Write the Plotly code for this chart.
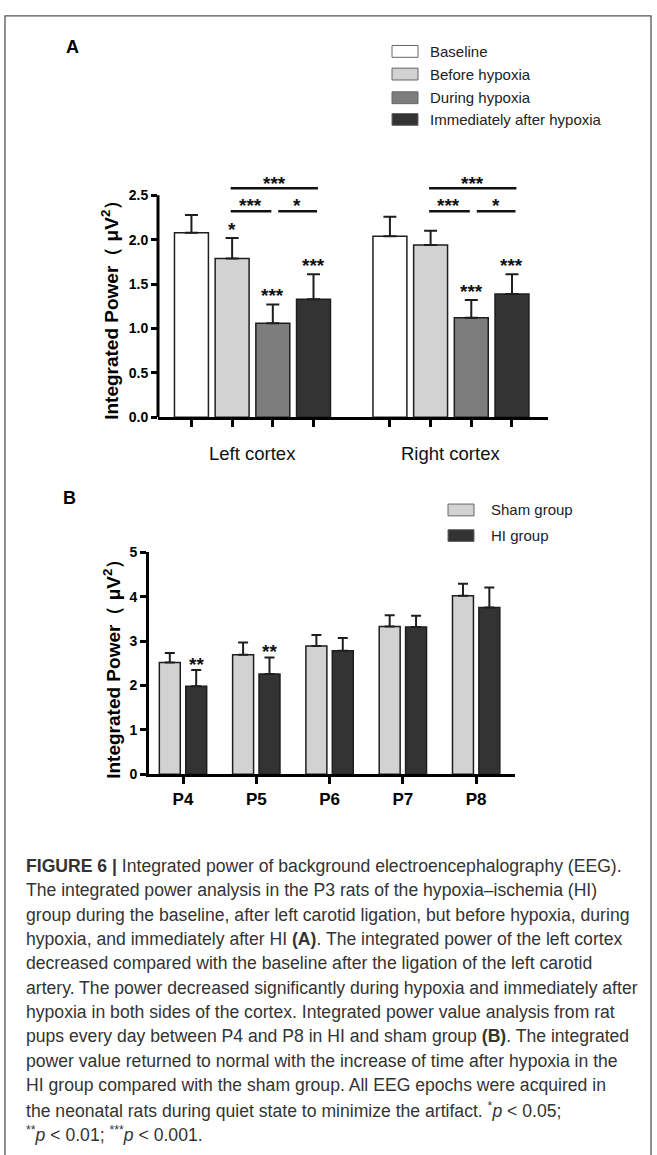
import plotly.graph_objects as go

W, H = 657, 1155

# ---------------- Panel A data ----------------
regions = ["Left cortex", "Right cortex"]
conditions = ["Baseline", "Before hypoxia", "During hypoxia", "Immediately after hypoxia"]
baseline_mean = [2.08, 2.04]
baseline_sem = [0.20, 0.22]
before_mean = [1.79, 1.94]
before_sem = [0.23, 0.16]
during_mean = [1.06, 1.12]
during_sem = [0.21, 0.20]
after_mean = [1.33, 1.39]
after_sem = [0.28, 0.22]
stars_A = [["", ""], ["*", ""], ["***", "***"], ["***", "***"]]
yticks_A = [0.0, 0.5, 1.0, 1.5, 2.0, 2.5]

# ---------------- Panel B data ----------------
days = ["P4", "P5", "P6", "P7", "P8"]
groups_B = ["Sham group", "HI group"]
sham_mean = [2.52, 2.69, 2.89, 3.33, 4.02]
sham_sem = [0.21, 0.28, 0.25, 0.25, 0.27]
hi_mean = [1.98, 2.26, 2.78, 3.32, 3.76]
hi_sem = [0.37, 0.37, 0.29, 0.25, 0.45]
stars_B = ["**", "**", "", "", ""]
yticks_B = [0, 1, 2, 3, 4, 5]

colors_A = ["#ffffff", "#d2d2d2", "#7d7d7d", "#333333"]
colors_B = ["#d2d2d2", "#333333"]
EDGE = "#1e1e1e"
FONT = "Liberation Sans, Arial, sans-serif"
STAR_FONT = dict(family=FONT, size=19, color="#111", weight="bold")


def px_x(p):
    return p / W


def px_y(p):
    return 1 - p / H


fig = go.Figure()

# ---- Panel A bars ----
means_A = [baseline_mean, before_mean, during_mean, after_mean]
sems_A = [baseline_sem, before_sem, during_sem, after_sem]
step_A, width_A = 0.205, 0.171
bar_x_A = []
for k, cond in enumerate(conditions):
    xs = [g + (k - 1.5) * step_A for g in range(len(regions))]
    bar_x_A += xs
    fig.add_trace(go.Bar(
        x=xs, y=means_A[k], width=width_A, name=cond, showlegend=False,
        marker=dict(color=colors_A[k], line=dict(color=EDGE, width=1.5)),
        error_y=dict(type="data", array=sems_A[k], arrayminus=[0] * len(regions),
                     symmetric=False, color=EDGE, thickness=2, width=6.5),
        xaxis="x", yaxis="y",
    ))
    for g in range(len(regions)):
        if stars_A[k][g]:
            fig.add_annotation(x=xs[g], y=means_A[k][g] + sems_A[k][g] + 0.1,
                               xref="x", yref="y", text=stars_A[k][g], showarrow=False,
                               font=STAR_FONT, xanchor="center", yanchor="middle", yshift=0)

# significance brackets panel A
for g in range(len(regions)):
    for (x0, x1, yy, txt, tx, ty) in [(-0.11, 0.33, 2.58, "***", 0.11, 2.65),
                                      (-0.11, 0.095, 2.32, "***", -0.01, 2.40),
                                      (0.13, 0.325, 2.32, "*", 0.225, 2.40)]:
        fig.add_shape(type="line", xref="x", yref="y", x0=g + x0, x1=g + x1, y0=yy, y1=yy,
                      line=dict(color="#111", width=2.5))
        fig.add_annotation(x=g + tx, y=ty, xref="x", yref="y", text=txt, showarrow=False,
                           font=STAR_FONT, xanchor="center", yanchor="middle", yshift=-1)

# ---- Panel B bars ----
means_B = [sham_mean, hi_mean]
sems_B = [sham_sem, hi_sem]
off_B, width_B = 0.18, 0.286
for k, grp in enumerate(groups_B):
    xs = [g + (k - 0.5) * 2 * off_B for g in range(len(days))]
    fig.add_trace(go.Bar(
        x=xs, y=means_B[k], width=width_B, name=grp, showlegend=False,
        marker=dict(color=colors_B[k], line=dict(color=EDGE, width=1.5)),
        error_y=dict(type="data", array=sems_B[k], arrayminus=[0] * len(days),
                     symmetric=False, color=EDGE, thickness=2, width=5),
        xaxis="x2", yaxis="y2",
    ))
for g, s in enumerate(stars_B):
    if s:
        fig.add_annotation(x=g + off_B, y=hi_mean[g] + hi_sem[g] + 0.17, xref="x2", yref="y2",
                           text=s, showarrow=False, font=STAR_FONT,
                           xanchor="center", yanchor="middle", yshift=-2)

# y-axis line for panel A (stops at 2.5)
fig.add_shape(type="line", xref="x domain", yref="y", x0=0, x1=0, y0=0, y1=2.5,
              line=dict(color="black", width=3))

# frame
fig.add_shape(type="rect", xref="paper", yref="paper", x0=px_x(5), x1=px_x(651),
              y0=px_y(1175), y1=px_y(8), line=dict(color="#555", width=1.3))

# ---- legends (key boxes + names) ----
legA_y = [44, 67, 91, 113]
for k, cond in enumerate(conditions):
    fig.add_shape(type="rect", xref="paper", yref="paper",
                  x0=px_x(392), x1=px_x(418), y0=px_y(legA_y[k] + 6), y1=px_y(legA_y[k] - 6),
                  fillcolor=colors_A[k], line=dict(color="#666", width=1))
    fig.add_annotation(x=px_x(428), y=px_y(legA_y[k]), xref="paper", yref="paper", text=cond,
                       showarrow=False, xanchor="left", yanchor="middle",
                       font=dict(family=FONT, size=15, color="#222"))
legB_y = [509, 535]
for k, grp in enumerate(groups_B):
    fig.add_shape(type="rect", xref="paper", yref="paper",
                  x0=px_x(448), x1=px_x(474), y0=px_y(legB_y[k] + 6), y1=px_y(legB_y[k] - 6),
                  fillcolor=colors_B[k], line=dict(color="#666", width=1))
    fig.add_annotation(x=px_x(489), y=px_y(legB_y[k]), xref="paper", yref="paper", text=grp,
                       showarrow=False, xanchor="left", yanchor="middle",
                       font=dict(family=FONT, size=15, color="#222"))

tick_font = dict(family=FONT, size=14, color="black", weight="bold")

fig.update_layout(
    width=W, height=H, margin=dict(l=0, r=0, t=0, b=0),
    paper_bgcolor="white", plot_bgcolor="white",
    barmode="overlay", showlegend=False,
    xaxis=dict(domain=[px_x(158), px_x(548)], range=[-0.476, 1.489], anchor="y",
               tickvals=bar_x_A, showticklabels=False, ticks="outside",
               ticklen=7, tickwidth=3, tickcolor="black", showline=True, linewidth=3,
               linecolor="black", showgrid=False, zeroline=False),
    yaxis=dict(domain=[px_y(415), px_y(167.5)], range=[0, 2.75], anchor="x",
               tickvals=yticks_A, ticktext=[f"{v:.1f}" for v in yticks_A], ticks="outside",
               ticklen=6, tickwidth=2.5, tickcolor="black", tickfont=tick_font,
               showline=False, showgrid=False, zeroline=False),
    xaxis2=dict(domain=[px_x(149), px_x(515)], range=[-0.464, 4.53], anchor="y2",
                tickvals=list(range(len(days))), ticktext=days, ticks="outside",
                ticklen=7, tickwidth=3, tickcolor="black",
                tickfont=dict(family=FONT, size=17, color="black", weight="bold"),
                showline=True, linewidth=3, linecolor="black", showgrid=False, zeroline=False),
    yaxis2=dict(domain=[px_y(777), px_y(552)], range=[0, 5], anchor="x2",
                tickvals=yticks_B, ticktext=[str(v) for v in yticks_B], ticks="outside",
                ticklen=6, tickwidth=2.5, tickcolor="black", tickfont=tick_font,
                showline=True, linewidth=3, linecolor="black", showgrid=False, zeroline=False),
)

# panel letters
for letter, (lx, ly) in {"A": (72, 40), "B": (69, 497)}.items():
    fig.add_annotation(x=px_x(lx), y=px_y(ly), xref="paper", yref="paper",
                       text=f"<b>{letter}</b>", showarrow=False, xanchor="center",
                       yanchor="middle", font=dict(family=FONT, size=18, color="black"))

# axis titles
ytitle = "<b>Integrated Power（ μV<sup>2</sup>）</b>"
for tx, ty in [(110, 302), (112, 666)]:
    fig.add_annotation(x=px_x(tx), y=px_y(ty), xref="paper", yref="paper", text=ytitle,
                       textangle=-90, showarrow=False, xanchor="center", yanchor="middle",
                       font=dict(family=FONT, size=19, color="black"))

# category labels panel A
for g, r in enumerate(regions):
    fig.add_annotation(x=g, y=px_y(452), xref="x", yref="paper", text=r, showarrow=False,
                       xanchor="center", yanchor="middle",
                       font=dict(family=FONT, size=18.5, color="#111"))

# caption
caption = [
    "<b>FIGURE 6 |</b> Integrated power of background electroencephalography (EEG).",
    "The integrated power analysis in the P3 rats of the hypoxia–ischemia (HI)",
    "group during the baseline, after left carotid ligation, but before hypoxia, during",
    "hypoxia, and immediately after HI <b>(A)</b>. The integrated power of the left cortex",
    "decreased compared with the baseline after the ligation of the left carotid",
    "artery. The power decreased significantly during hypoxia and immediately after",
    "hypoxia in both sides of the cortex. Integrated power value analysis from rat",
    "pups every day between P4 and P8 in HI and sham group <b>(B)</b>. The integrated",
    "power value returned to normal with the increase of time after hypoxia in the",
    "HI group compared with the sham group. All EEG epochs were acquired in",
    "the neonatal rats during quiet state to minimize the artifact. <sup>*</sup><i>p</i> &lt; 0.05;",
    "<sup>**</sup><i>p</i> &lt; 0.01; <sup>***</sup><i>p</i> &lt; 0.001.",
]
for i, line in enumerate(caption):
    fig.add_annotation(x=px_x(24), y=px_y(870 + i * 24.7), xref="paper", yref="paper",
                       text=line, showarrow=False, xanchor="left", yanchor="middle",
                       font=dict(family=FONT, size=17.6, color="#333"))

fig.write_html("out.html", config={"displayModeBar": False},
               post_script="document.body.style.margin='0px';")
